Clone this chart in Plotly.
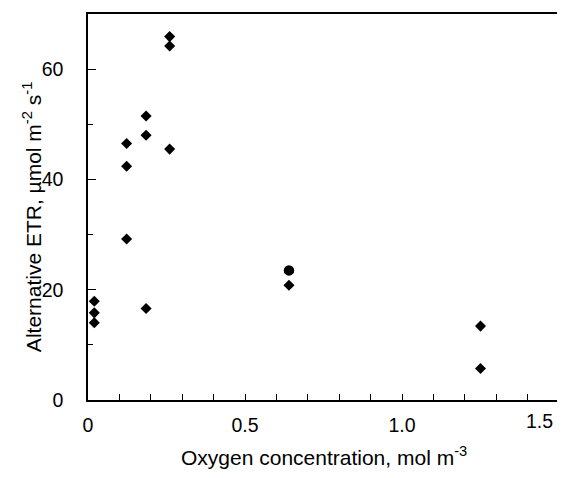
import plotly.graph_objects as go

# Data
oxygen = [0.02, 0.02, 0.02, 0.123, 0.123, 0.123, 0.185, 0.185, 0.185,
          0.26, 0.26, 0.26, 0.64, 1.25, 1.25]
etr = [17.9, 15.8, 14.0, 46.5, 42.4, 29.2, 51.5, 48.0, 16.6,
       65.9, 64.2, 45.5, 20.8, 13.4, 5.7]
oxygen_circle = [0.64]
etr_circle = [23.5]

x_tickvals = [0, 0.5, 1.0, 1.5]
x_ticktext = ["0", "0.5", "1.0", "1.5"]
y_tickvals = [0, 20, 40, 60]

FONT = "Liberation Sans, Arial, sans-serif"
TICK_SIZE = 19.5
TITLE_SIZE = 21

fig = go.Figure()
fig.add_trace(go.Scatter(x=oxygen, y=etr, mode="markers",
                         marker=dict(symbol="diamond", size=8.5, color="black"),
                         showlegend=False))
fig.add_trace(go.Scatter(x=oxygen_circle, y=etr_circle, mode="markers",
                         marker=dict(symbol="circle", size=10.5, color="black"),
                         showlegend=False))

# The page body adds an 8px margin, so the figure is sized to the visible area
fig.update_layout(
    width=557, height=470,
    margin=dict(l=80, r=5, t=4, b=78),
    paper_bgcolor="white", plot_bgcolor="white",
    font=dict(family=FONT, size=18, color="black"),
    xaxis=dict(range=[0, 1.5], tickvals=x_tickvals[:-1], ticktext=x_ticktext[:-1],
               ticks="inside", ticklen=6, tickwidth=1.2, tickcolor="black",
               minor=dict(dtick=0.1, ticks="inside", ticklen=6, tickwidth=1.2, tickcolor="black"),
               showline=True, linecolor="black", linewidth=1.5, mirror=True,
               showgrid=False, zeroline=False, ticklabelstandoff=7,
               tickfont=dict(size=TICK_SIZE)),
    yaxis=dict(range=[0, 70], tickvals=y_tickvals,
               ticks="inside", ticklen=8, tickwidth=1.2, tickcolor="black",
               minor=dict(dtick=10, ticks="inside", ticklen=5, tickwidth=1.2, tickcolor="black"),
               showline=True, linecolor="black", linewidth=1.5, mirror=True,
               showgrid=False, zeroline=False, ticklabelstandoff=19,
               tickfont=dict(size=TICK_SIZE)),
    annotations=[
        # last x tick label, kept inside the figure like in the reference
        dict(text=x_ticktext[-1], xref="x", yref="paper",
             x=x_tickvals[-1], y=0, xanchor="right", yanchor="middle",
             xshift=-4, yshift=-21, showarrow=False, font=dict(size=TICK_SIZE)),
        dict(text="Oxygen concentration, mol m<sup>-3</sup>", xref="paper", yref="paper",
             x=0.5, y=-0.145, xanchor="center", yanchor="middle", showarrow=False,
             font=dict(size=TITLE_SIZE)),
        dict(text="Alternative ETR, \u00b5mol m<sup>-2</sup> s<sup>-1</sup>", xref="paper", yref="paper",
             x=-0.12, y=0.475, xanchor="center", yanchor="middle", textangle=-90,
             showarrow=False, font=dict(size=TITLE_SIZE)),
    ],
)

fig.write_html("out.html")
